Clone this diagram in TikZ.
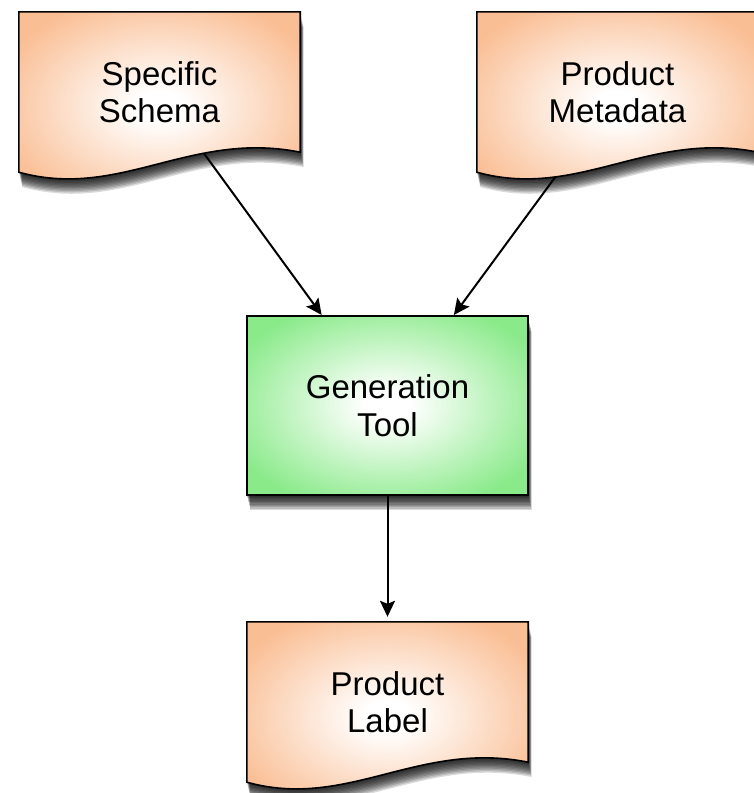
\documentclass[tikz,border=0pt]{standalone}
\usepackage{fontspec}
\setmainfont{Liberation Sans}
\usetikzlibrary{arrows.meta,calc}
\definecolor{peach}{RGB}{250,190,148}
\definecolor{mint}{RGB}{138,234,138}
\pgfdeclareradialshading{docshade}{\pgfpoint{0bp}{0bp}}{color(0bp)=(white); color(4bp)=(white); color(30bp)=(peach); color(50bp)=(peach)}
\pgfdeclareradialshading{toolshade}{\pgfpoint{0bp}{0bp}}{color(0bp)=(white); color(4bp)=(white); color(30bp)=(mint); color(50bp)=(mint)}
\pgfdeclarelayer{back}
\pgfsetlayers{back,main}
\tikzset{
  labeltext/.style={minimum width=281pt, inner sep=0pt, align=center, font=\fontsize{33}{37.5}\selectfont, text=black},
  docnode/.style={labeltext, minimum height=160pt},
  toolnode/.style={labeltext, minimum height=179pt},
  boxline/.style={draw=black, line width=1.6pt},
  docfill/.style={boxline, shading=docshade},
  toolfill/.style={boxline, shading=toolshade},
  shadowpiece/.style={fill=black, fill opacity=0.14, draw=none},
  flow/.style={-{Stealth[length=16pt,width=15pt,inset=3pt]}, line width=2pt, shorten >=1pt},
}
\newcommand\softshade[1]{\foreach \k in {1,...,11}{\begin{scope}[transform canvas={shift={(0.3*\k pt,-1.35*\k pt)}}]\path[shadowpiece] #1;\end{scope}}}
\begin{document}
\begin{tikzpicture}[x=1pt,y=-1pt]
\useasboundingbox (0,0) rectangle (753,793);
\node[docnode] (ss) at (159.5,92) {Specific\\Schema};
\node[docnode] (pm) at (617.5,92) {Product\\Metadata};
\node[toolnode] (gt) at (387.5,405.5) {Generation\\Tool};
\node[docnode] (pl) at (387.5,702) {Product\\Label};
\begin{pgfonlayer}{back}
\draw[flow, shorten <=-25pt] (ss) -- (gt);
\draw[flow, shorten <=-25pt] (pm) -- (gt);
\draw[flow, shorten >=5pt] (gt) -- (pl);
\softshade{(ss.north west) -- (ss.north east) -- ($(ss.south east)+(0,-20)$) .. controls ($(ss.south east)+(-110,-42)$) and ($(ss.south west)+(101,28)$) .. (ss.south west) -- cycle}
\softshade{(pm.north west) -- (pm.north east) -- ($(pm.south east)+(0,-20)$) .. controls ($(pm.south east)+(-110,-42)$) and ($(pm.south west)+(101,28)$) .. (pm.south west) -- cycle}
\softshade{(pl.north west) -- (pl.north east) -- ($(pl.south east)+(0,-20)$) .. controls ($(pl.south east)+(-110,-42)$) and ($(pl.south west)+(101,28)$) .. (pl.south west) -- cycle}
\softshade{(gt.north west) rectangle (gt.south east)}
\path[docfill] (ss.north west) -- (ss.north east) -- ($(ss.south east)+(0,-20)$) .. controls ($(ss.south east)+(-110,-42)$) and ($(ss.south west)+(101,28)$) .. (ss.south west) -- cycle;
\path[docfill] (pm.north west) -- (pm.north east) -- ($(pm.south east)+(0,-20)$) .. controls ($(pm.south east)+(-110,-42)$) and ($(pm.south west)+(101,28)$) .. (pm.south west) -- cycle;
\path[docfill] (pl.north west) -- (pl.north east) -- ($(pl.south east)+(0,-20)$) .. controls ($(pl.south east)+(-110,-42)$) and ($(pl.south west)+(101,28)$) .. (pl.south west) -- cycle;
\path[toolfill] (gt.north west) rectangle (gt.south east);
\end{pgfonlayer}
\end{tikzpicture}
\end{document}
